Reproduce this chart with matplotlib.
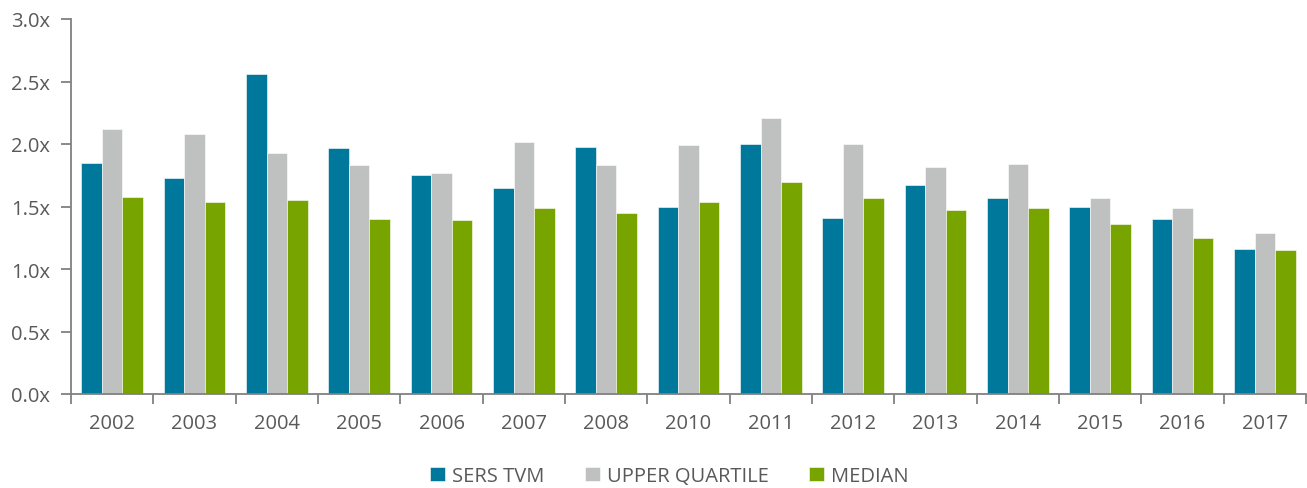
import matplotlib
matplotlib.use("Agg")
import matplotlib.pyplot as plt
import numpy as np
from matplotlib.ticker import FixedLocator, FuncFormatter

years = ["2002", "2003", "2004", "2005", "2006", "2007", "2008", "2010",
         "2011", "2012", "2013", "2014", "2015", "2016", "2017"]
sers_tvm = [1.85, 1.73, 2.56, 1.97, 1.75, 1.65, 1.98, 1.50, 2.00, 1.41, 1.67, 1.57, 1.50, 1.40, 1.16]
upper_quartile = [2.12, 2.08, 1.93, 1.83, 1.77, 2.02, 1.83, 1.99, 2.21, 2.00, 1.82, 1.84, 1.57, 1.49, 1.29]
median = [1.58, 1.54, 1.55, 1.40, 1.39, 1.49, 1.45, 1.54, 1.70, 1.57, 1.47, 1.49, 1.36, 1.25, 1.15]
series_names = ["SERS TVM", "UPPER QUARTILE", "MEDIAN"]
colors = ["#00789C", "#BFC0C0", "#78A400"]

plt.rcParams['font.family'] = ['Open Sans', 'DejaVu Sans']
text_color = "#595959"
axis_color = "#808080"

fig = plt.figure(figsize=(13.07, 4.89), dpi=100)
ax = fig.add_axes([71/1307, 1-395/489, (1306-71)/1307, (395-20)/489])

x = np.arange(len(years))
w = 0.25
for i, (vals, name, c) in enumerate(zip([sers_tvm, upper_quartile, median], series_names, colors)):
    ax.bar(x + (i - 1) * w, vals, width=w, color=c, label=name, edgecolor="white", linewidth=0.4)

ax.set_xlim(-0.5, len(years) - 0.5)
ax.set_ylim(0, 3.0)
ax.set_yticks(np.arange(0, 3.01, 0.5))
ax.yaxis.set_major_formatter(FuncFormatter(lambda v, p: f"{v:.1f}x"))

ax.set_xticks(x)
ax.set_xticklabels(years)
ax.xaxis.set_minor_locator(FixedLocator(np.arange(-0.5, len(years), 1.0)))
ax.tick_params(axis="x", which="major", length=0, pad=14, labelsize=14.5, labelcolor=text_color)
ax.tick_params(axis="x", which="minor", length=7, width=1.3, color=axis_color, direction="out")
ax.tick_params(axis="y", which="major", length=7, width=1.3, color=axis_color, direction="out",
               pad=8, labelsize=14.5, labelcolor=text_color)

for s in ["top", "right"]:
    ax.spines[s].set_visible(False)
for s in ["left", "bottom"]:
    ax.spines[s].set_color(axis_color)
    ax.spines[s].set_linewidth(1.3)

leg = fig.legend(loc="center", bbox_to_anchor=(0.512, 1-477/489), ncol=3, frameon=False,
                 fontsize=14.5, handlelength=0.75, handleheight=0.75, handletextpad=0.35,
                 columnspacing=2.0)
for t in leg.get_texts():
    t.set_color(text_color)

fig.savefig("out.png", dpi=100)
